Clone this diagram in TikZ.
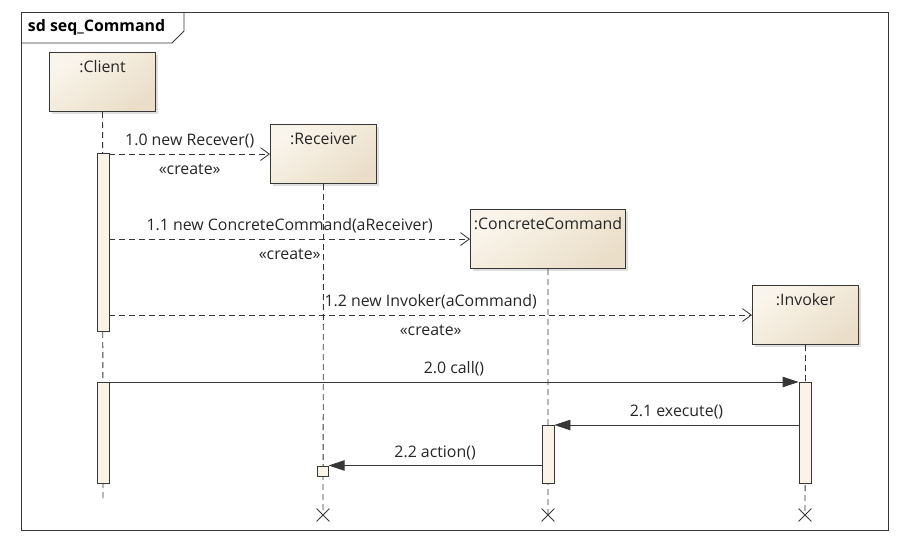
\documentclass[tikz,border=0pt]{standalone}
\usepackage{fontspec}
\setmainfont{Open Sans}
\usetikzlibrary{arrows.meta, shadows, shapes.misc}

\definecolor{objtop}{RGB}{250,245,236}
\definecolor{objbot}{RGB}{234,222,200}
\definecolor{actfill}{RGB}{251,243,232}
\definecolor{linegray}{RGB}{55,55,55}

\tikzset{
  obj/.style={draw=linegray, line width=0.8pt, top color=objtop, bottom color=objbot,
    shading angle=35, minimum height=14.75mm, anchor=north west,
    drop shadow={shadow xshift=0.7mm, shadow yshift=-0.7mm, opacity=0.25}},
  objname/.style={anchor=north, yshift=-0.9mm},
  act/.style={draw=linegray, line width=0.6pt, fill=actfill, minimum width=3mm, inner sep=0pt, anchor=north},
  life/.style={draw=linegray, line width=0.6pt, dash pattern=on 1.5mm off 1mm},
  xmark/.style={cross out, draw=linegray, line width=0.6pt, minimum size=3mm, inner sep=0pt},
  create/.style={draw=linegray, line width=0.6pt, dash pattern=on 1.5mm off 1mm, -{Straight Barb[length=2.2mm, width=3.2mm]}},
  sync/.style={draw=linegray, line width=0.6pt, -{Triangle[length=4mm, width=2.6mm]}},
  msg/.style={font=\fontsize{11.3}{13}\selectfont, text=black!85}
}

\begin{document}
\begin{tikzpicture}[x=0.25mm, y=-0.25mm]
  \useasboundingbox (0,0) rectangle (908,545);
  \draw [linegray, line width=0.7pt] (21,12) rectangle (888,530);
  \draw [linegray, line width=0.7pt] (21,43) -- (172,43) -- (184,31) -- (184,12);
  \node [anchor=west, font=\bfseries\fontsize{11.3}{13}\selectfont] (title) at (23,27.5) {sd seq\_Command};

  \node [obj, minimum width=26.5mm, label={[objname, msg]north::Client}] (client) at (49,52) {};
  \node [obj, minimum width=26.5mm, label={[objname, msg]north::Receiver}] (rcv) at (270,124) {};
  \node [obj, minimum width=38.75mm, label={[objname, msg]north::ConcreteCommand}] (cc) at (470,209) {};
  \node [obj, minimum width=26.5mm, label={[objname, msg]north::Invoker}] (inv) at (752,285) {};

  \coordinate (clientend) at (103,500);
  \node [xmark] (rcvx) at (323,515) {};
  \node [xmark] (ccx) at (548,515) {};
  \node [xmark] (invx) at (805,515) {};

  \draw [life] (client.south) -- (clientend);
  \draw [life] (rcv.south) -- (rcvx.center);
  \draw [life] (cc.south) -- (ccx.center);
  \draw [life] (inv.south) -- (invx.center);

  \node [act, minimum height=44.5mm] (ca1) at (103,153) {};
  \node [act, minimum height=25.25mm] (ca2) at (103,382) {};
  \node [act, minimum height=25.25mm] (ia) at (805,382) {};
  \node [act, minimum height=14.5mm] (cca) at (548,425) {};
  \node [act, anchor=north, minimum width=2.6mm, minimum height=2.6mm] (sq) at (323,465.5) {};

  \draw [create] (ca1.east |- rcv.west) -- (rcv.west)
    node [msg, midway, above=0.3mm] {1.0 new Recever()}
    node [msg, midway, below=1.2mm] {«create»};
  \draw [create] (ca1.east |- cc.west) -- (cc.west)
    node [msg, midway, above=0.3mm] {1.1 new ConcreteCommand(aReceiver)}
    node [msg, midway, below=1.2mm] {«create»};
  \draw [create] (ca1.east |- inv.west) -- (inv.west)
    node [msg, midway, above=0.3mm] {1.2 new Invoker(aCommand)}
    node [msg, midway, below=1.2mm] {«create»};
  \draw [sync] (ca2.north east) -- (ia.north west)
    node [msg, midway, above=0.2mm] {2.0 call()};
  \draw [sync] (ia.west |- cca.north) -- (cca.north east)
    node [msg, midway, above=0.2mm] {2.1 execute()};
  \draw [sync] (cca.west |- sq.north east) -- (sq.north east)
    node [msg, midway, above=0.2mm] {2.2 action()};
\end{tikzpicture}
\end{document}
